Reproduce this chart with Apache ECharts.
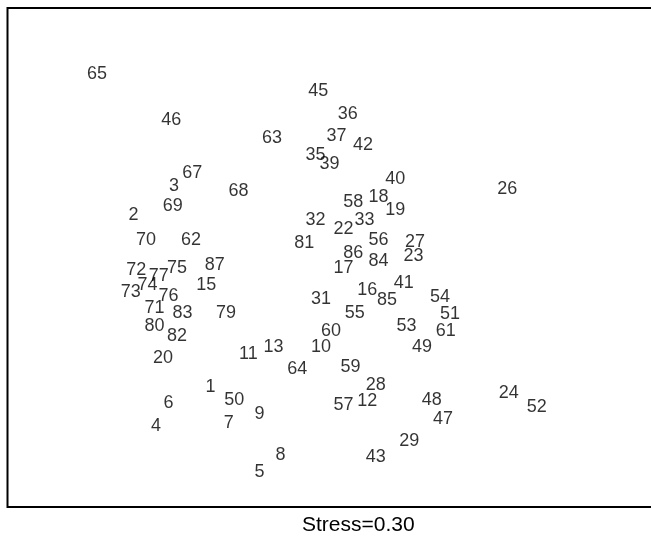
<!DOCTYPE html>
<html>
<head>
<meta charset="utf-8">
<script src="https://cdn.jsdelivr.net/npm/echarts@6/dist/echarts.min.js"></script>
<style>
html,body{margin:0;padding:0;background:#fff;}
#main{width:651px;height:536px;}
</style>
</head>
<body>
<div id="main"></div>
<script>
// Object ids (labels) and their MDS coordinates
var ids = [1,2,3,4,5,6,7,8,9,10,11,12,13,15,16,17,18,19,20,22,23,24,26,27,28,29,31,32,33,35,36,37,39,40,41,42,43,45,46,47,48,49,50,51,52,53,54,55,56,57,58,59,60,61,62,63,64,65,67,68,69,70,71,72,73,74,75,76,77,79,80,81,82,83,84,85,86,87];
var dim1 = [-1.05,-1.60,-1.31,-1.44,-0.70,-1.35,-0.92,-0.55,-0.70,-0.26,-0.78,0.07,-0.60,-1.08,0.07,-0.10,0.15,0.27,-1.39,-0.10,0.40,1.08,1.07,0.41,0.13,0.37,-0.26,-0.30,0.05,-0.30,-0.07,-0.15,-0.20,0.27,0.33,0.04,0.13,-0.28,-1.33,0.61,0.53,0.46,-0.88,0.66,1.28,0.35,0.59,-0.02,0.15,-0.10,-0.03,-0.05,-0.19,0.63,-1.19,-0.61,-0.43,-1.86,-1.18,-0.85,-1.32,-1.51,-1.45,-1.58,-1.62,-1.50,-1.29,-1.35,-1.42,-0.94,-1.45,-0.38,-1.29,-1.25,0.15,0.21,-0.03,-1.02];
var dim2 = [-0.93,0.31,0.52,-1.21,-1.54,-1.04,-1.19,-1.42,-1.12,-0.64,-0.69,-1.03,-0.64,-0.19,-0.23,-0.07,0.44,0.35,-0.72,0.21,0.02,-0.97,0.50,0.12,-0.91,-1.32,-0.29,0.28,0.28,0.75,1.04,0.88,0.68,0.57,-0.18,0.82,-1.43,1.21,1.00,-1.16,-1.02,-0.64,-1.02,-0.40,-1.07,-0.49,-0.28,-0.39,0.13,-1.06,0.41,-0.78,-0.52,-0.52,0.13,0.87,-0.80,1.33,0.62,0.49,0.38,0.13,-0.36,-0.08,-0.24,-0.19,-0.07,-0.27,-0.13,-0.39,-0.49,0.11,-0.56,-0.39,-0.02,-0.30,0.04,-0.05];
var stressText = 'Stress=0.30';

var data = ids.map(function(id, i){
  return { name: String(id), value: [dim1[i], dim2[i]] };
});

var chart = echarts.init(document.getElementById('main'), null, {renderer:'canvas'});
chart.setOption({
  animation: false,
  backgroundColor: '#ffffff',
  grid: {
    show: true,
    outerBoundsMode: 'none',
    containLabel: false,
    left: 7.5, top: 8, width: 700, height: 499,
    borderColor: '#000', borderWidth: 2,
    backgroundColor: 'transparent'
  },
  xAxis: { type: 'value', min: -2.5, max: 2.5, show: false },
  yAxis: { type: 'value', min: -1.8, max: 1.8, show: false },
  series: [{
    type: 'scatter',
    data: data,
    symbol: 'circle',
    symbolSize: 1,
    clip: false,
    itemStyle: { color: 'rgba(0,0,0,0)' },
    label: {
      show: true,
      position: 'inside',
      offset: [0, 1],
      formatter: '{b}',
      align: 'center',
      verticalAlign: 'middle',
      color: '#000',
      fontSize: 18,
      fontFamily: 'Liberation Sans, Arial, sans-serif'
    },
    emphasis: { disabled: true }
  }],
  graphic: [{
    type: 'text',
    left: 358 - 56, top: 515,
    style: {
      text: stressText,
      fill: '#000',
      fontSize: 21,
      fontFamily: 'Liberation Sans, Arial, sans-serif'
    }
  }]
});
</script>
</body>
</html>
